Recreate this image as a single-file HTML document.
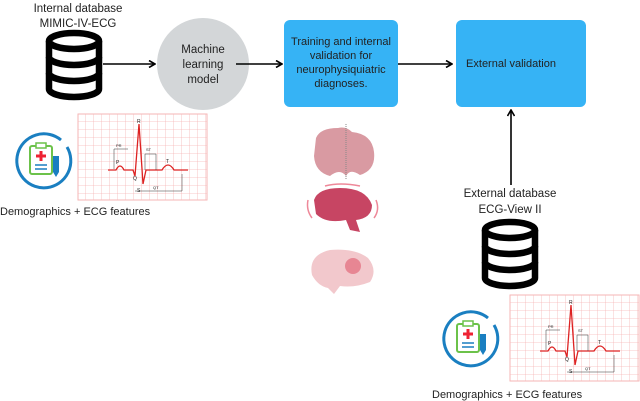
<!DOCTYPE html>
<html><head><meta charset="utf-8"><style>
body{margin:0;background:#fff}
svg{display:block}
text{font-family:"Liberation Sans",sans-serif;fill:#222}
</style></head><body>
<svg width="640" height="401" viewBox="0 0 640 401" xmlns="http://www.w3.org/2000/svg">
<defs>
<g id="db" fill="none" stroke="#000" stroke-width="6.5">
<ellipse cx="29" cy="10" rx="25" ry="8"/>
<path d="M4 10 V58 A25 8 0 0 0 54 58 V10"/>
<path d="M4 26 A25 8 0 0 0 54 26"/>
<path d="M4 42 A25 8 0 0 0 54 42"/>
</g>
<pattern id="grid" width="8" height="8" patternUnits="userSpaceOnUse">
<path d="M8 0V8H0" fill="none" stroke="#f6b6b6" stroke-width="0.8"/>
</pattern>
<g id="ecg">
<rect x="0" y="0" width="129" height="86" fill="#fff" stroke="#f6b6b6"/>
<rect x="0" y="0" width="129" height="86" fill="url(#grid)"/>
<path d="M30 56 L38 56 Q42 48 46 56 L55 56 L57 62 L61 10 L65 70 L68 56 L84 56 Q90 46 96 56 L110 56" fill="none" stroke="#d22" stroke-width="1.3"/>
<text x="59" y="9" font-size="5">R</text>
<text x="38" y="50" font-size="5">P</text>
<text x="55" y="66" font-size="5">Q</text>
<text x="59" y="78" font-size="5">S</text>
<text x="88" y="49" font-size="5">T</text>
<text x="38" y="33" font-size="4">PR</text>
<text x="68" y="37" font-size="4">ST</text>
<text x="75" y="75" font-size="4">QT</text>
<path d="M36 35V55M36 35H50M67 40H78M67 40V56M78 40V56M57 77H104M104 60V77" stroke="#333" stroke-width="0.5" fill="none"/>
</g>
<g id="clip">
<path d="M18 -20 A27 27 0 1 0 24 -13" fill="none" stroke="#1a7fc1" stroke-width="3"/>
<rect x="-13" y="-14" width="22" height="28" rx="2" fill="#fff" stroke="#6cc24a" stroke-width="2"/>
<rect x="-7" y="-17" width="10" height="5" fill="#fff" stroke="#6cc24a" stroke-width="1.5"/>
<path d="M-2 -9V1M-7 -4H3" stroke="#e23" stroke-width="3"/>
<path d="M-8 5H4M-8 9H4" stroke="#1a7fc1" stroke-width="1.5"/>
<path d="M10 -4H16V12L13 17L10 12Z" fill="#1a7fc1"/>
</g>
<marker id="ah" markerWidth="8" markerHeight="8" refX="7" refY="4" orient="auto" markerUnits="userSpaceOnUse">
<path d="M1 0.5L7 4L1 7.5" fill="none" stroke="#000" stroke-width="1.6"/>
</marker>
</defs>

<text x="78" y="12" font-size="11.5" text-anchor="middle">Internal database</text>
<text x="78" y="27" font-size="11.5" text-anchor="middle">MIMIC-IV-ECG</text>
<use href="#db" x="45" y="31"/>
<line x1="103" y1="64" x2="155" y2="64" stroke="#000" stroke-width="1.6" marker-end="url(#ah)"/>
<circle cx="203" cy="64" r="46" fill="#d3d6d8"/>
<text x="203" y="53" font-size="11.5" text-anchor="middle">Machine</text>
<text x="203" y="68" font-size="11.5" text-anchor="middle">learning</text>
<text x="203" y="83" font-size="11.5" text-anchor="middle">model</text>
<line x1="236" y1="64" x2="282" y2="64" stroke="#000" stroke-width="1.6" marker-end="url(#ah)"/>
<rect x="284" y="20" width="114" height="87" rx="6" fill="#36b3f5"/>
<text x="341" y="45" font-size="11" text-anchor="middle">Training and internal</text>
<text x="341" y="59" font-size="11" text-anchor="middle">validation for</text>
<text x="341" y="73" font-size="11" text-anchor="middle">neurophysiquiatric</text>
<text x="341" y="87" font-size="11" text-anchor="middle">diagnoses.</text>
<line x1="398" y1="64" x2="452" y2="64" stroke="#000" stroke-width="1.6" marker-end="url(#ah)"/>
<rect x="456" y="20" width="130" height="87" rx="6" fill="#36b3f5"/>
<text x="511" y="67" font-size="11" text-anchor="middle">External validation</text>
<line x1="511" y1="185" x2="511" y2="110" stroke="#000" stroke-width="1.6" marker-end="url(#ah)"/>

<use href="#clip" x="43" y="160"/>
<use href="#ecg" x="78" y="114"/>
<text x="0" y="215" font-size="11">Demographics + ECG features</text>

<g>
<path d="M316 138 Q320 128 338 128 Q346 126 352 132 Q372 134 374 152 Q376 170 360 175 Q350 168 346 176 Q340 168 330 176 Q315 172 314 156Z" fill="#d99aa2"/>
<line x1="346" y1="124" x2="346" y2="180" stroke="#888" stroke-dasharray="1,1"/>
<path d="M314 200 Q318 188 340 188 Q366 188 372 205 Q372 218 356 220 L360 232 L350 230 L346 220 Q326 224 316 214Z" fill="#c74563"/>
<path d="M308 200 Q306 210 312 218M376 200 Q380 210 374 218M325 186 Q340 182 360 186" stroke="#e89" fill="none" stroke-width="1.5"/>
<path d="M312 275 Q308 255 330 250 Q355 248 368 258 Q378 270 370 282 Q355 288 340 286 L334 294 L328 288 Q318 286 312 275Z" fill="#f2c8cc"/>
<circle cx="353" cy="266" r="8" fill="#e36a7a" opacity="0.7"/>
</g>

<text x="510" y="197" font-size="11.5" text-anchor="middle">External database</text>
<text x="510" y="213" font-size="11.5" text-anchor="middle">ECG-View II</text>
<use href="#db" x="481" y="220"/>
<use href="#clip" x="470" y="338"/>
<use href="#ecg" x="510" y="295"/>
<text x="432" y="398" font-size="11">Demographics + ECG features</text>
</svg>
</body></html>
